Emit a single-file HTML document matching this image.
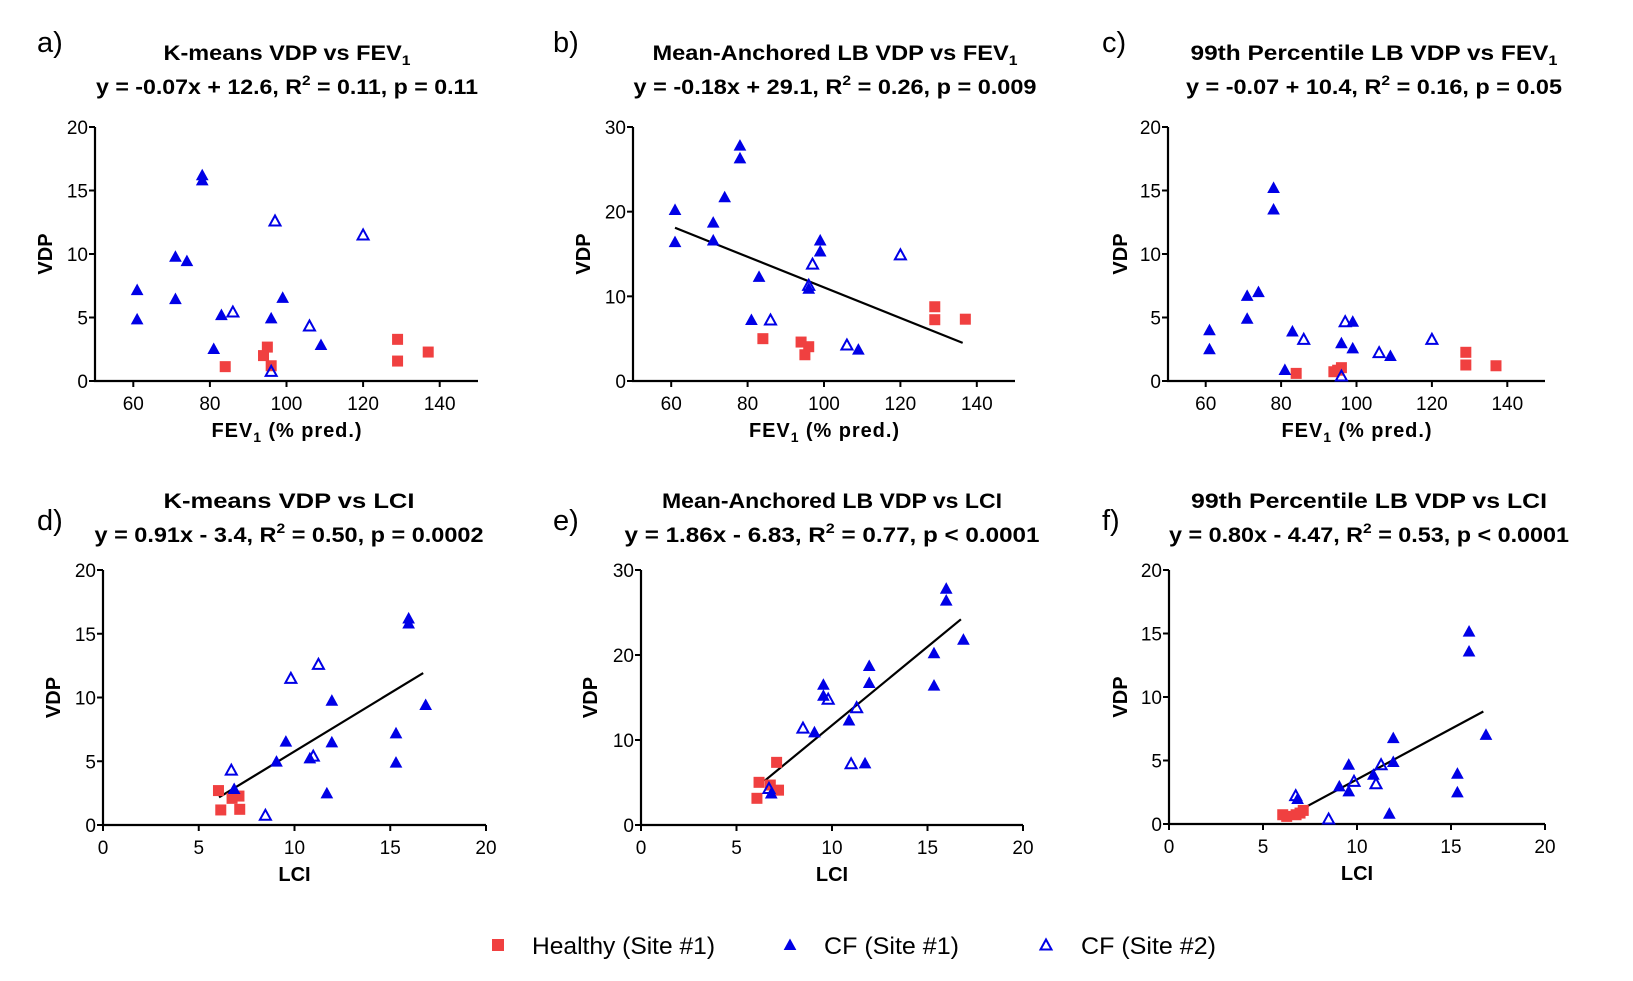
<!DOCTYPE html>
<html><head><meta charset="utf-8"><style>
body{margin:0;background:#fff}
svg{display:block;font-family:"Liberation Sans",Arial,sans-serif}
</style></head><body>
<svg id="fig" width="1633" height="981" viewBox="0 0 1633 981"></svg>
<script>
// ---- Panel a: K-means VDP vs FEV1
const aHealthyX=[84,95,94,96,129,129,137];
const aHealthyY=[1.13,2.67,2.0,1.2,3.28,1.57,2.28];
const aCF1X=[78,78,71,74,61,61,71,83,81,96,99,109];
const aCF1Y=[16.2,15.8,9.78,9.44,7.16,4.85,6.45,5.19,2.52,4.93,6.55,2.83];
const aCF2X=[97,120,86,106,96];
const aCF2Y=[12.6,11.5,5.43,4.33,0.76];
// ---- Panel b: Mean-Anchored LB VDP vs FEV1
const bHealthyX=[84,94,96,95,129,129,137];
const bHealthyY=[5.0,4.6,4.05,3.1,8.77,7.24,7.3];
const bCF1X=[78,78,74,61,61,71,71,83,81,96,99,99,109];
const bCF1Y=[27.8,26.3,21.7,20.2,16.4,18.7,16.6,12.3,7.2,10.9,16.6,15.3,3.7];
const bCF2X=[97,96,120,86,106];
const bCF2Y=[13.8,11.3,14.9,7.2,4.25];
const bLineX=[61,136.3];
const bLineY=[18.1,4.5];
// ---- Panel c: 99th Percentile LB VDP vs FEV1
const cHealthyX=[84,94,96,95,129,129,137];
const cHealthyY=[0.6,0.73,1.05,0.85,2.26,1.26,1.2];
const cCF1X=[78,78,71,74,61,61,71,83,81,96,99,99,109];
const cCF1Y=[15.2,13.5,6.7,7.0,4.0,2.5,4.9,3.9,0.87,2.97,4.67,2.57,1.97];
const cCF2X=[97,120,86,106,96];
const cCF2Y=[4.67,3.28,3.28,2.23,0.39];
// ---- Panel d: K-means VDP vs LCI
const dHealthyX=[6.03,6.15,6.74,7.1,7.14];
const dHealthyY=[2.7,1.18,2.09,2.27,1.23];
const dCF1X=[15.96,15.96,11.95,16.85,15.3,15.3,9.55,11.95,9.06,10.8,11.69,6.85];
const dCF1Y=[16.2,15.8,9.75,9.41,7.19,4.89,6.54,6.48,4.97,5.23,2.48,2.82];
const dCF2X=[11.25,9.81,10.98,6.7,8.48];
const dCF2Y=[12.6,11.5,5.4,4.3,0.76];
const dLineX=[6.06,16.72];
const dLineY=[2.17,11.92];
// ---- Panel e: Mean-Anchored LB VDP vs LCI
const eHealthyX=[6.07,6.18,6.77,7.2,7.1];
const eHealthyY=[3.14,5.02,4.7,4.1,7.37];
const eCF1X=[15.98,15.98,16.88,15.34,15.34,11.95,11.95,9.55,9.55,9.08,10.89,11.73,6.82];
const eCF1Y=[27.8,26.4,21.8,20.2,16.4,18.7,16.7,16.5,15.2,10.9,12.3,7.25,3.7];
const eCF2X=[9.8,11.29,8.48,11.0,6.7];
const eCF2Y=[14.8,13.8,11.4,7.2,4.3];
const eLineX=[6.47,16.75];
const eLineY=[5.2,24.2];
// ---- Panel f: 99th Percentile LB VDP vs LCI
const fHealthyX=[6.05,6.26,6.76,7.14,6.97];
const fHealthyY=[0.73,0.6,0.73,1.07,0.86];
const fCF1X=[15.96,15.96,16.86,11.93,11.93,15.34,15.34,9.56,9.56,9.06,10.87,11.72,6.84];
const fCF1Y=[15.15,13.58,7.02,6.76,4.88,3.96,2.49,4.67,2.57,2.96,3.88,0.81,1.97];
const fCF2X=[11.28,9.84,11.01,6.74,8.49];
const fCF2Y=[4.67,3.36,3.17,2.23,0.39];
const fLineX=[6.08,16.72];
const fLineY=[0.39,8.86];
// ---- tick labels
const fevTicks=[60,80,100,120,140];
const lciTicks=[0,5,10,15,20];
const vdp20Ticks=[0,5,10,15,20];
const vdp30Ticks=[0,10,20,30];

const NS='http://www.w3.org/2000/svg';
const svg=document.getElementById('fig');
function mk(tag,attrs,parent){const e=document.createElementNS(NS,tag);for(const k in attrs)e.setAttribute(k,attrs[k]);(parent||svg).appendChild(e);return e;}

const panels=[
 {id:'a',letter:'a)',lx:37,ly:52,t1:['K-means VDP vs FEV','1',''],t2:['y = -0.07x + 12.6, R','2',' = 0.11, p = 0.11'],tc:287,w1:247,w2:382,ty1:60,ty2:94,
  x0:95,x1:478,y0:381,y1:127,xmin:50,xmax:150,ymax:20,xt:fevTicks,yt:vdp20Ticks,xl:'FEV',vx:45,
  H:[aHealthyX,aHealthyY],C1:[aCF1X,aCF1Y],C2:[aCF2X,aCF2Y],L:null},
 {id:'b',letter:'b)',lx:553,ly:52,t1:['Mean-Anchored LB VDP vs FEV','1',''],t2:['y = -0.18x + 29.1, R','2',' = 0.26, p = 0.009'],tc:835,w1:365,w2:403,ty1:60,ty2:94,
  x0:633,x1:1015,y0:381,y1:127,xmin:50,xmax:150,ymax:30,xt:fevTicks,yt:vdp30Ticks,xl:'FEV',vx:583,
  H:[bHealthyX,bHealthyY],C1:[bCF1X,bCF1Y],C2:[bCF2X,bCF2Y],L:[bLineX,bLineY]},
 {id:'c',letter:'c)',lx:1102,ly:52,t1:['99th Percentile LB VDP vs FEV','1',''],t2:['y = -0.07 + 10.4, R','2',' = 0.16, p = 0.05'],tc:1374,w1:367,w2:376,ty1:60,ty2:94,
  x0:1168,x1:1545,y0:381,y1:127,xmin:50,xmax:150,ymax:20,xt:fevTicks,yt:vdp20Ticks,xl:'FEV',vx:1120,
  H:[cHealthyX,cHealthyY],C1:[cCF1X,cCF1Y],C2:[cCF2X,cCF2Y],L:null},
 {id:'d',letter:'d)',lx:37,ly:530,t1:['K-means VDP vs LCI','',''],t2:['y = 0.91x - 3.4, R','2',' = 0.50, p = 0.0002'],tc:289,w1:251,w2:389,ty1:508,ty2:542,
  x0:103,x1:486,y0:825,y1:570,xmin:0,xmax:20,ymax:20,xt:lciTicks,yt:vdp20Ticks,xl:'LCI',vx:53,
  H:[dHealthyX,dHealthyY],C1:[dCF1X,dCF1Y],C2:[dCF2X,dCF2Y],L:[dLineX,dLineY]},
 {id:'e',letter:'e)',lx:553,ly:530,t1:['Mean-Anchored LB VDP vs LCI','',''],t2:['y = 1.86x - 6.83, R','2',' = 0.77, p < 0.0001'],tc:832,w1:340,w2:415,ty1:508,ty2:542,
  x0:641,x1:1023,y0:825,y1:570,xmin:0,xmax:20,ymax:30,xt:lciTicks,yt:vdp30Ticks,xl:'LCI',vx:590,
  H:[eHealthyX,eHealthyY],C1:[eCF1X,eCF1Y],C2:[eCF2X,eCF2Y],L:[eLineX,eLineY]},
 {id:'f',letter:'f)',lx:1102,ly:530,t1:['99th Percentile LB VDP vs LCI','',''],t2:['y = 0.80x - 4.47, R','2',' = 0.53, p < 0.0001'],tc:1369,w1:356,w2:400,ty1:508,ty2:542,
  x0:1169,x1:1545,y0:824,y1:570,xmin:0,xmax:20,ymax:20,xt:lciTicks,yt:vdp20Ticks,xl:'LCI',vx:1120,
  H:[fHealthyX,fHealthyY],C1:[fCF1X,fCF1Y],C2:[fCF2X,fCF2Y],L:[fLineX,fLineY]}
];

function titleText(g,parts,x,y,w,sub,name){
  const t=mk('text',{x:x,y:y,'text-anchor':'middle','font-size':21,'font-weight':'bold',fill:'#000',textLength:w,lengthAdjust:'spacingAndGlyphs'},g);
  
  
  const s1=mk('tspan',{},t);s1.textContent=parts[0];
  if(parts[1]){const s2=mk('tspan',{'font-size':14,dy:sub?5:-9},t);s2.textContent=parts[1];
    const s3=mk('tspan',{dy:sub?-5:9},t);s3.textContent=parts[2]||'';}
}
function tri(g,x,y,open,name){
  const p=mk('polygon',{points:`${x},${y-5.5} ${x-5.5},${y+4.5} ${x+5.5},${y+4.5}`,fill:open?'none':'#0000e6',stroke:'#0000e6','stroke-width':open?2:1},g);
  
  
}
panels.forEach(P=>{
  const g=mk('g',{});
  
  
  const sx=v=>P.x0+(v-P.xmin)/(P.xmax-P.xmin)*(P.x1-P.x0);
  const sy=v=>P.y0-(v/P.ymax)*(P.y0-P.y1);
  const L=mk('text',{x:P.lx,y:P.ly,'font-size':29,fill:'#000'},g);L.textContent=P.letter;
  
  
  titleText(g,P.t1,P.tc,P.ty1,P.w1,true,'title-'+P.id);
  titleText(g,P.t2,P.tc,P.ty2,P.w2,false,'regression-equation-'+P.id);
  const ax=mk('path',{d:`M${P.x0},${P.y1} V${P.y0} H${P.x1}`,fill:'none',stroke:'#000','stroke-width':2.2},g);
  
  
  P.yt.forEach(v=>{
    const y=sy(v);
    mk('line',{x1:P.x0-6,x2:P.x0,y1:y,y2:y,stroke:'#000','stroke-width':2},g);
    const t=mk('text',{x:P.x0-7,y:y+7,'text-anchor':'end','font-size':19,fill:'#000'},g);t.textContent=v;
    
    
  });
  P.xt.forEach(v=>{
    const x=sx(v);
    mk('line',{x1:x,x2:x,y1:P.y0,y2:P.y0+6,stroke:'#000','stroke-width':2},g);
    const t=mk('text',{x:x,y:P.y0+29,'text-anchor':'middle','font-size':19,fill:'#000'},g);t.textContent=v;
    
    
  });
  const cx=(P.x0+P.x1)/2;
  const xt=mk('text',{x:cx,y:P.y0+56,'text-anchor':'middle','font-size':20,'font-weight':'bold',fill:'#000'},g);
  
  
  if(P.xl==='FEV'){xt.setAttribute('textLength',150);
    const a=mk('tspan',{},xt);a.textContent='FEV';const b=mk('tspan',{'font-size':14,dy:5},xt);b.textContent='1';const c=mk('tspan',{dy:-5},xt);c.textContent=' (% pred.)';}
  else xt.textContent='LCI';
  const cy=(P.y0+P.y1)/2;
  const yt=mk('text',{x:P.vx,y:cy,'text-anchor':'middle','font-size':20,'font-weight':'bold',fill:'#000',transform:`rotate(-90 ${P.vx} ${cy})`,dy:7},g);
  yt.textContent='VDP';
  
  
  if(P.L){
    const ln=mk('line',{x1:sx(P.L[0][0]),y1:sy(P.L[1][0]),x2:sx(P.L[0][1]),y2:sy(P.L[1][1]),stroke:'#000','stroke-width':2.2},g);
    
    
  }
  P.H[0].forEach((v,i)=>{
    const r=mk('rect',{x:sx(v)-5.5,y:sy(P.H[1][i])-5.5,width:11,height:11,fill:'#f04040'},g);
    
    
  });
  P.C1[0].forEach((v,i)=>tri(g,sx(v),sy(P.C1[1][i]),false,'cf-site1-point'));
  P.C2[0].forEach((v,i)=>tri(g,sx(v),sy(P.C2[1][i]),true,'cf-site2-point'));
});
const lg=mk('g',{});


const lr=mk('rect',{x:492,y:939,width:12,height:12,fill:'#f04040'},lg);


tri(lg,790,945,false,'legend-cf-site1-marker');
tri(lg,1046,945,true,'legend-cf-site2-marker');
[['Healthy (Site #1)',532,183,'legend-healthy'],['CF (Site #1)',824,135,'legend-cf-site1'],['CF (Site #2)',1081,135,'legend-cf-site2']].forEach(d=>{
  const t=mk('text',{x:d[1],y:954,'font-size':24,fill:'#000',textLength:d[2],lengthAdjust:'spacingAndGlyphs'},lg);
  t.textContent=d[0];
  
  
});
</script>
</body></html>
